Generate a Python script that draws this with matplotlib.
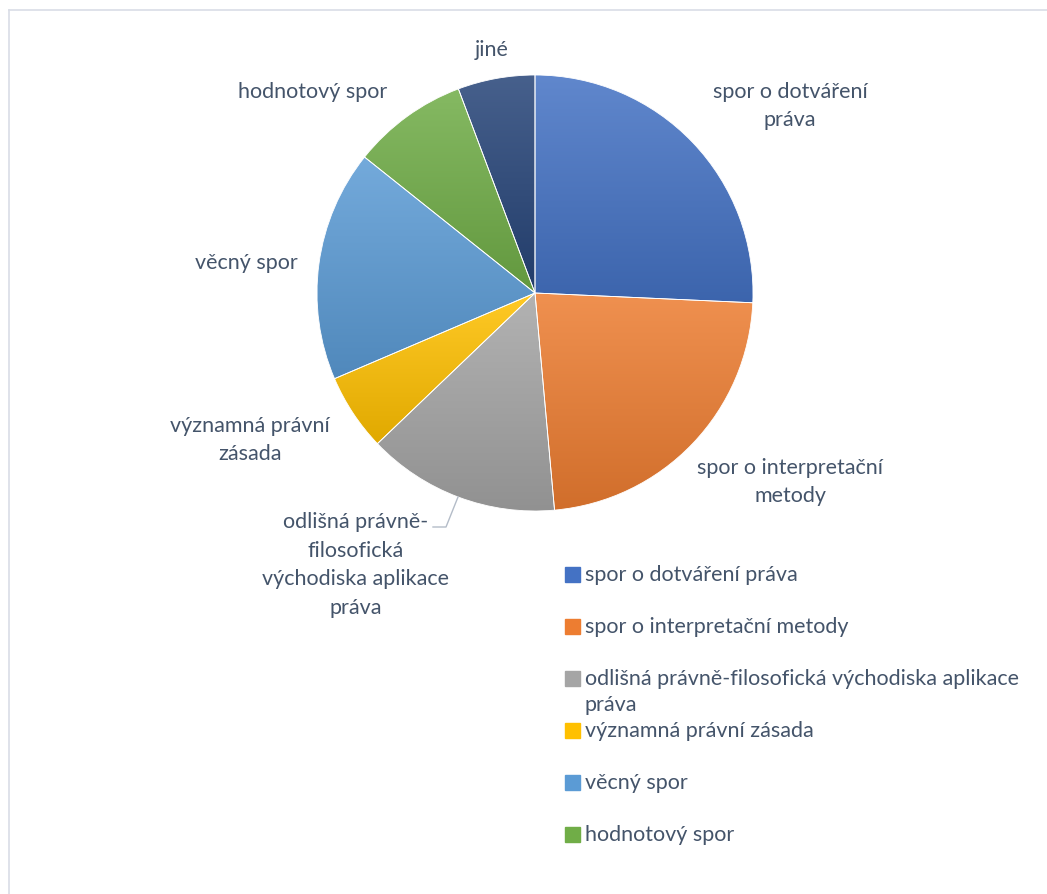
import numpy as np
import matplotlib
matplotlib.use("Agg")
import matplotlib.pyplot as plt
import matplotlib.colors as mcolors
from matplotlib.patches import Rectangle
from matplotlib.lines import Line2D

labels = ["spor o dotváření práva", "spor o interpretační metody",
          "odlišná právně-filosofická východiska aplikace práva",
          "významná právní zásada", "věcný spor", "hodnotový spor", "jiné"]
counts = [9, 8, 5, 2, 6, 3, 2]
colors = ["#4472C4", "#ED7D31", "#A5A5A5", "#FFC000", "#5B9BD5", "#70AD47", "#264478"]

W, H = 1047, 894
TXT = "#44546A"
plt.rcParams['font.family'] = ['Lato', 'DejaVu Sans']

fig = plt.figure(figsize=(W / 100, H / 100), dpi=100)


def px(x, y):
    return x / W, 1 - y / H


# chart border (top/left only visible)
fig.add_artist(Line2D([9 / W, 9 / W], [0, 1 - 10 / H], color="#D9DDE6", lw=1.2))
fig.add_artist(Line2D([9 / W, 1], [1 - 10 / H, 1 - 10 / H], color="#D9DDE6", lw=1.2))

cx, cy, r = 535, 293, 218
ax = fig.add_axes([(cx - r) / W, 1 - (cy + r) / H, 2 * r / W, 2 * r / H])
wedges, _ = ax.pie(counts, colors=colors, startangle=90, counterclock=False,
                   wedgeprops=dict(edgecolor="white", linewidth=0.6))
ax.set_xlim(-1, 1)
ax.set_ylim(-1, 1)
ax.axis("off")


def shade(c, f):
    c = np.array(mcolors.to_rgb(c))
    return np.clip(c + (1 - c) * f if f > 0 else c * (1 + f), 0, 1)


# vertical gradient per slice, lighter at the top
for w, c in zip(wedges, colors):
    bb = w.get_path().get_extents(w.get_transform() - ax.transData)
    top, bot = shade(c, 0.15), shade(c, -0.12)
    t = np.linspace(0, 1, 256)[:, None]
    img = (top[None, :] * (1 - t) + bot[None, :] * t)[:, None, :]
    im = ax.imshow(img, extent=(bb.x0, bb.x1, bb.y0, bb.y1), aspect="auto",
                   origin="upper", zorder=w.get_zorder() + 0.1)
    im.set_clip_path(w)
    w.set_zorder(w.get_zorder() + 0.2)
    w.set_facecolor("none")
ax.set_xlim(-1, 1)
ax.set_ylim(-1, 1)

# data labels
fs = 15.5
label_pos = [(790, 106, "spor o dotváření\npráva"),
             (790, 482, "spor o interpretační\nmetody"),
             (356, 565, "odlišná právně-\nfilosofická\nvýchodiska aplikace\npráva"),
             (250, 440, "významná právní\nzásada"),
             (246, 263, "věcný spor"),
             (313, 92, "hodnotový spor"),
             (492, 50, "jiné")]
for x, y, s in label_pos:
    fig.text(*px(x, y), s, ha="center", va="center", fontsize=fs, color=TXT,
             linespacing=1.55)

# leader line for the grey slice
lx = [458, 446, 433]
ly = [497, 527, 527]
fig.add_artist(Line2D([v / W for v in lx], [1 - v / H for v in ly], color="#B4BCC8", lw=1))

# legend (last entry cut off by the chart area)
row_y = [575, 627, 679, 731, 783, 835]
for i, y in enumerate(row_y):
    name = labels[i]
    if len(name) > 40:
        name = "odlišná právně-filosofická východiska aplikace\npráva"
    fig.add_artist(Rectangle(px(565, y + 7), 15 / W, 15 / H, color=colors[i],
                             transform=fig.transFigure))
    fig.text(*px(585, y - 10), name, ha="left", va="top", fontsize=fs, color=TXT,
             linespacing=1.4)

fig.savefig("out.png", dpi=100)
